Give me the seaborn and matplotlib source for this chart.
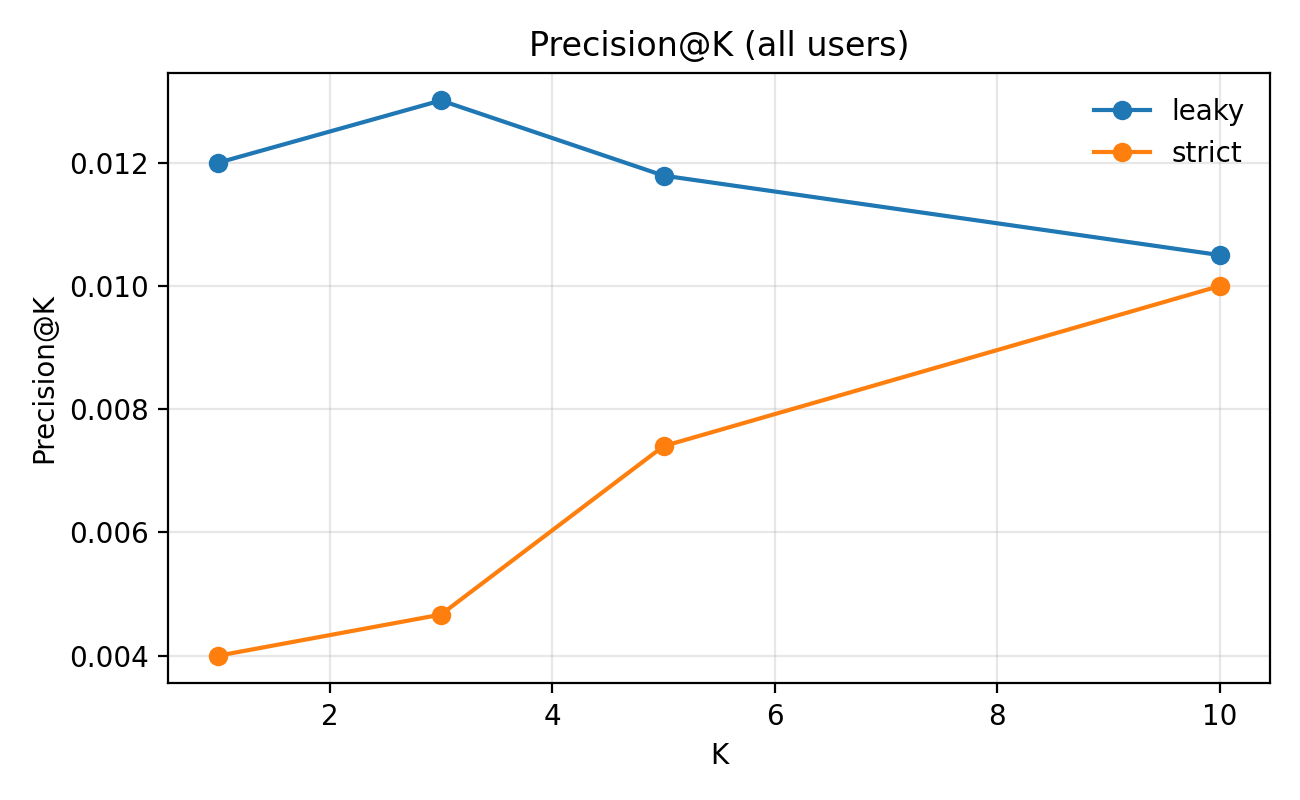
import pandas as pd
import seaborn as sns
import matplotlib.pyplot as plt

k_values = [1, 3, 5, 10]
leaky = [0.0120, 0.01301, 0.01179, 0.01050]
strict = [0.0040, 0.004667, 0.0074, 0.0100]

df = pd.DataFrame({
    "K": k_values * 2,
    "precision": leaky + strict,
    "setting": ["leaky"] * len(k_values) + ["strict"] * len(k_values),
})

fig, ax = plt.subplots(figsize=(6.5, 4), dpi=200)
sns.lineplot(data=df, x="K", y="precision", hue="setting", marker="o",
             markersize=7, markeredgewidth=0, palette=["#1f77b4", "#ff7f0e"], ax=ax)

ax.set_title("Precision@K (all users)")
ax.set_xlabel("K")
ax.set_ylabel("Precision@K")
ax.grid(True, alpha=0.3)
ax.set_axisbelow(True)
ax.legend(title=None, frameon=False, loc="upper right")

plt.tight_layout()
plt.savefig("out.png", dpi=200)
